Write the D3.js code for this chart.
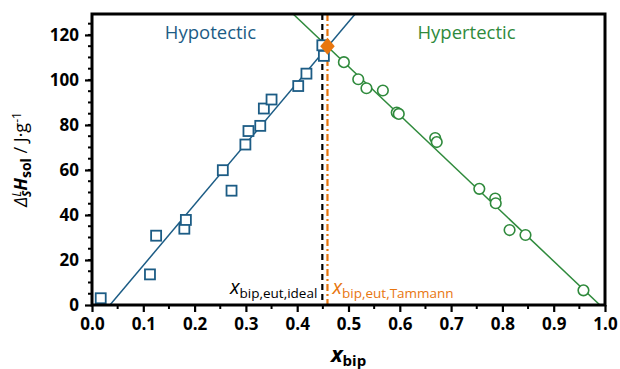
<!DOCTYPE html>
<html>
<head>
<meta charset="utf-8">
<script src="https://cdn.jsdelivr.net/npm/d3@7"></script>
<style>
  body { margin: 0; background: #fff; }
  svg { font-family: "Open Sans", "Noto Sans", sans-serif; }
</style>
</head>
<body>
<svg id="chart" width="620" height="369"></svg>
<script>
// hypotectic points (squares)
const hypoX = [0.017, 0.113, 0.125, 0.180, 0.183, 0.255, 0.272, 0.299, 0.305, 0.328, 0.335, 0.350, 0.402, 0.418, 0.452, 0.449];
const hypoY = [3.0, 13.6, 30.8, 33.9, 37.8, 59.9, 50.8, 71.3, 77.3, 79.6, 87.3, 91.3, 97.3, 102.8, 110.7, 115.4];
// hypertectic points (circles)
const hyperX = [0.491, 0.519, 0.535, 0.567, 0.594, 0.598, 0.669, 0.672, 0.755, 0.786, 0.787, 0.814, 0.845, 0.958];
const hyperY = [107.9, 100.3, 96.3, 95.3, 85.5, 84.9, 74.2, 72.4, 51.6, 47.3, 45.2, 33.3, 31.1, 6.5];
// fitted lines (end points)
const hypoFit = [[0.035, 0], [0.513, 129.3]];
const hyperFit = [[0.392, 129.3], [0.990, 0]];
// eutectic
const xEutIdeal = 0.449;
const xEutTammann = 0.459;
const eutPoint = [0.459, 115.0];

const xTicks = [0, 0.1, 0.2, 0.3, 0.4, 0.5, 0.6, 0.7, 0.8, 0.9, 1.0];
const yTicks = [0, 20, 40, 60, 80, 100, 120];

const BLUE = "#1c5c85", GREEN = "#2f8a3c", ORANGE = "#e8760f";

const svg = d3.select("#chart");
const L = 92, R = 605, T = 14, B = 305;
const x = d3.scaleLinear().domain([0, 1]).range([L, R]);
const y = d3.scaleLinear().domain([0, 129.3]).range([B, T]);

svg.append("defs").append("clipPath").attr("id", "clip")
  .append("rect").attr("x", L).attr("y", T).attr("width", R - L).attr("height", B - T);

const plot = svg.append("g").attr("clip-path", "url(#clip)");
const line = d3.line().x(d => x(d[0])).y(d => y(d[1]));

// eutectic lines
plot.append("line").attr("x1", x(xEutIdeal)).attr("x2", x(xEutIdeal))
  .attr("y1", T).attr("y2", B)
  .attr("stroke", "#000").attr("stroke-width", 2.2).attr("stroke-dasharray", "6,4");
plot.append("line").attr("x1", x(xEutTammann)).attr("x2", x(xEutTammann))
  .attr("y1", T).attr("y2", B)
  .attr("stroke", ORANGE).attr("stroke-width", 2.2).attr("stroke-dasharray", "7,3,2,3");

plot.append("path").datum(hypoFit).attr("d", line)
  .attr("fill", "none").attr("stroke", BLUE).attr("stroke-width", 1.5);
plot.append("path").datum(hyperFit).attr("d", line)
  .attr("fill", "none").attr("stroke", GREEN).attr("stroke-width", 1.5);

// squares
const sq = 10;
plot.selectAll("rect.hypo").data(hypoX).enter().append("rect")
  .attr("class", "hypo")
  .attr("x", (d) => x(d) - sq / 2)
  .attr("y", (d, i) => y(hypoY[i]) - sq / 2)
  .attr("width", sq).attr("height", sq)
  .attr("fill", "#fff").attr("stroke", BLUE).attr("stroke-width", 1.8);

plot.selectAll("circle.hyper").data(hyperX).enter().append("circle")
  .attr("class", "hyper")
  .attr("cx", d => x(d))
  .attr("cy", (d, i) => y(hyperY[i]))
  .attr("r", 5.3)
  .attr("fill", "#fff").attr("stroke", GREEN).attr("stroke-width", 1.6);

// eutectic point, slightly tall diamond
const tallDiamond = {
  draw(ctx, size) {
    const h = Math.sqrt(size) * 0.62, w = h * 0.85;
    ctx.moveTo(0, -h); ctx.lineTo(w, 0); ctx.lineTo(0, h); ctx.lineTo(-w, 0); ctx.closePath();
  }
};
plot.append("path")
  .attr("d", d3.symbol().type(tallDiamond).size(190)())
  .attr("transform", "translate(" + x(eutPoint[0]) + "," + y(eutPoint[1]) + ")")
  .attr("fill", ORANGE);

// region labels
svg.append("text").attr("x", x(0.231)).attr("y", 38.5).attr("text-anchor", "middle")
  .attr("font-size", 18.5).attr("fill", BLUE).text("Hypotectic");
svg.append("text").attr("x", x(0.73)).attr("y", 38.5).attr("text-anchor", "middle")
  .attr("font-size", 18.5).attr("fill", GREEN).text("Hypertectic");

// eutectic labels
const lab1 = svg.append("text").attr("x", x(xEutIdeal) - 5).attr("y", 294)
  .attr("text-anchor", "end").attr("fill", "#000");
lab1.append("tspan").attr("font-size", 20).attr("font-style", "italic").text("x");
lab1.append("tspan").attr("font-size", 13.5).attr("dy", 4).text("bip,eut,ideal");

const lab2 = svg.append("text").attr("x", x(xEutTammann) + 5).attr("y", 294)
  .attr("fill", ORANGE);
lab2.append("tspan").attr("font-size", 20).attr("font-style", "italic").text("x");
lab2.append("tspan").attr("font-size", 13.5).attr("dy", 4).text("bip,eut,Tammann");

// axes
const xAxis = svg.append("g").attr("transform", "translate(0," + B + ")");
xAxis.selectAll("line.minor").data(d3.range(0.05, 1, 0.1)).enter().append("line")
  .attr("x1", d => x(d)).attr("x2", d => x(d)).attr("y1", 0).attr("y2", 4)
  .attr("stroke", "#000").attr("stroke-width", 2);
xAxis.call(d3.axisBottom(x).tickValues(xTicks).tickFormat(d3.format(".1f"))
  .tickSizeInner(7).tickSizeOuter(0).tickPadding(6));

const yAxis = svg.append("g").attr("transform", "translate(" + L + ",0)");
yAxis.selectAll("line.minor").data(d3.range(5, 130, 5)).enter().append("line")
  .attr("x1", 0).attr("x2", -4).attr("y1", d => y(d)).attr("y2", d => y(d))
  .attr("stroke", "#000").attr("stroke-width", 2);
yAxis.call(d3.axisLeft(y).tickValues(yTicks).tickSizeInner(7).tickSizeOuter(0).tickPadding(6));

svg.selectAll(".tick line").attr("stroke-width", 2.2);
svg.selectAll(".tick text").attr("font-size", 17).attr("font-weight", "bold")
  .attr("font-family", "'Open Sans', sans-serif").attr("fill", "#000");
svg.selectAll(".domain").remove();

// frame
svg.append("rect").attr("x", L).attr("y", T).attr("width", R - L).attr("height", B - T)
  .attr("fill", "none").attr("stroke", "#000").attr("stroke-width", 3);

// axis titles
const xt = svg.append("text").attr("x", (L + R) / 2).attr("y", 362)
  .attr("text-anchor", "middle").attr("font-weight", "bold");
xt.append("tspan").attr("font-size", 22).attr("font-style", "italic").text("x");
xt.append("tspan").attr("font-size", 15).attr("dy", 4).text("bip");

const yt = svg.append("text")
  .attr("transform", "translate(27," + ((T + B) / 2) + ") rotate(-90)")
  .attr("text-anchor", "middle").attr("font-size", 18);
yt.append("tspan").attr("font-style", "italic").text("Δ");
yt.append("tspan").attr("font-size", 12).attr("font-style", "italic").attr("dy", -6).text("L");
yt.append("tspan").attr("font-size", 12).attr("font-style", "italic").attr("font-weight", "bold")
  .attr("dx", -6).attr("dy", 10).text("S");
yt.append("tspan").attr("font-weight", "bold").attr("font-style", "italic").attr("dy", -4).text("H");
yt.append("tspan").attr("font-size", 14).attr("font-weight", "bold").attr("dy", 4).text("sol");
yt.append("tspan").attr("dy", -4).text(" / J·g");
yt.append("tspan").attr("font-size", 12).attr("dy", -6).text("-1");
</script>
</body>
</html>
